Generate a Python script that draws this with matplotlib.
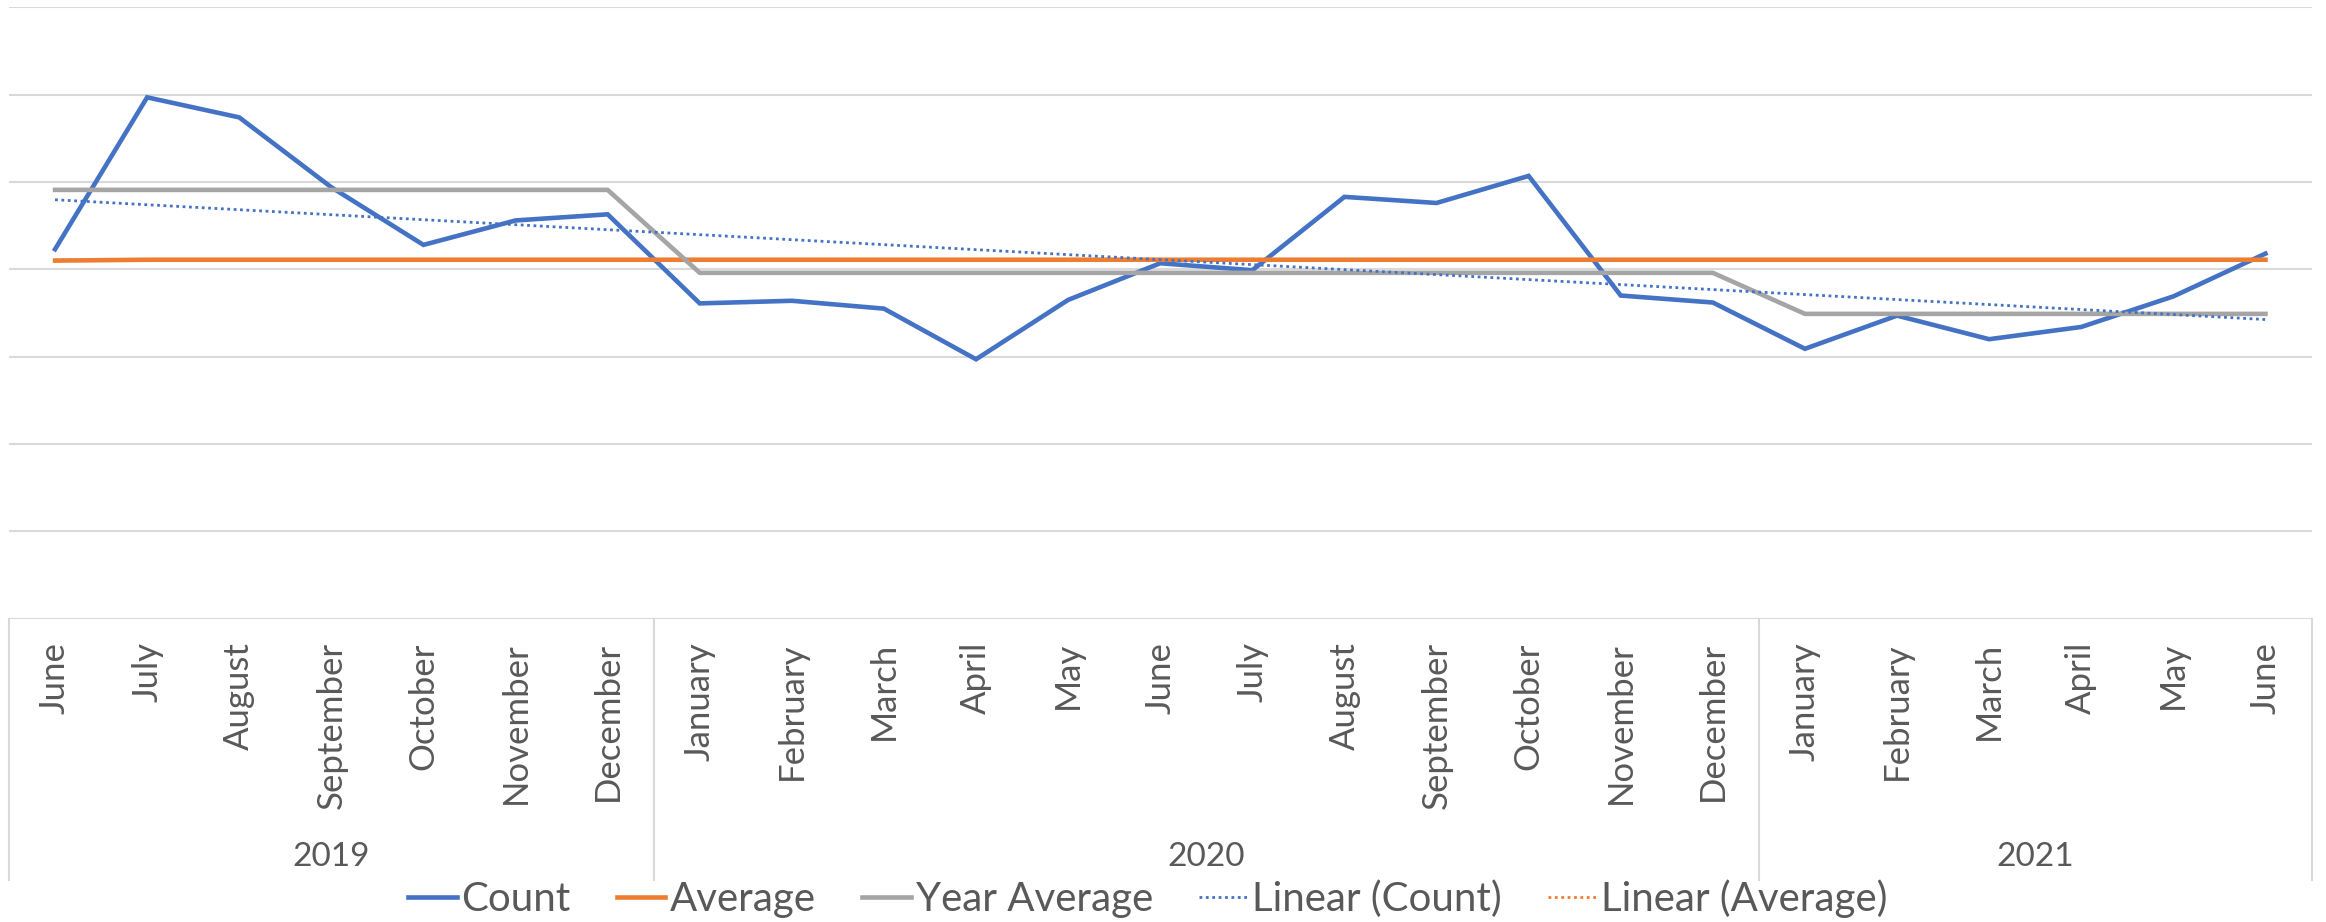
import numpy as np
import matplotlib
matplotlib.use("Agg")
from matplotlib import pyplot as plt

plt.rcParams['font.family'] = ['Lato', 'DejaVu Sans']

months = ["June", "July", "August", "September", "October", "November", "December",
          "January", "February", "March", "April", "May", "June", "July", "August",
          "September", "October", "November", "December",
          "January", "February", "March", "April", "May", "June"]
years = ["2019", "2020", "2021"]
year_edges = [-0.5, 6.5, 18.5, 24.5]

count = [4.23, 5.97, 5.74, 4.94, 4.28, 4.56, 4.63,
         3.61, 3.64, 3.55, 2.97, 3.65, 4.07, 3.99, 4.83, 4.76, 5.07, 3.70, 3.62,
         3.09, 3.47, 3.20, 3.34, 3.69, 4.18]
average = [4.10, 4.11, 4.11, 4.11, 4.11, 4.11, 4.11, 4.11, 4.11, 4.11, 4.11, 4.11, 4.11,
           4.11, 4.11, 4.11, 4.11, 4.11, 4.11, 4.11, 4.11, 4.11, 4.11, 4.11, 4.11]
year_average = [4.91, 4.91, 4.91, 4.91, 4.91, 4.91, 4.91,
                3.96, 3.96, 3.96, 3.96, 3.96, 3.96, 3.96, 3.96, 3.96, 3.96, 3.96, 3.96,
                3.49, 3.49, 3.49, 3.49, 3.49, 3.49]

BLUE = "#4472C4"
ORANGE = "#ED7D31"
GRAY = "#A5A5A5"
TEXT = "#595959"
GRID = "#D9D9D9"

W, H = 2326, 922
fig = plt.figure(figsize=(W / 100, H / 100), dpi=100)
ax = fig.add_axes([9 / W, 1 - 618.6 / H, 2302.5 / W, 611.2 / H])

x = np.arange(len(months))

# trendlines like excel's linear trend
p_count = np.polyfit(x, count, 1)
p_avg = np.polyfit(x, average, 1)

l1, = ax.plot(x, count, color=BLUE, lw=3.3, solid_joinstyle='miter', zorder=3)
l2, = ax.plot(x, average, color=ORANGE, lw=3.3, zorder=3)
l3, = ax.plot(x, year_average, color=GRAY, lw=3.3, zorder=3)
l4, = ax.plot(x, np.polyval(p_count, x), color=BLUE, lw=2.0, ls=(0, (1, 1.3)), zorder=4)
l5, = ax.plot(x, np.polyval(p_avg, x), color=ORANGE, lw=2.0, ls=(0, (1, 1.3)), zorder=2)

ax.set_xlim(-0.5, 24.5)
ax.set_ylim(0, 7)
ax.set_yticks(range(1, 8))
ax.yaxis.grid(True, color=GRID, lw=1.5)
ax.set_axisbelow(True)
ax.tick_params(axis='y', length=0, labelleft=False)
for s in ax.spines.values():
    s.set_visible(False)

ax.set_xticks(x)
ax.set_xticklabels(months, rotation=90, color=TEXT, fontsize=25)
ax.tick_params(axis='x', length=0, pad=17)

# category box
ax.axhline(0, color=GRID, lw=1.5, zorder=1)
for e in year_edges:
    ax.plot([e, e], [0, -2.99], color=GRID, lw=1.5, clip_on=False)
for i, yr in enumerate(years):
    ax.text((year_edges[i] + year_edges[i + 1]) / 2, -2.73, yr, ha='center', va='center',
            color=TEXT, fontsize=24, clip_on=False)

fig.legend([l1, l2, l3, l4, l5],
           ["Count", "Average", "Year Average", "Linear (Count)", "Linear (Average)"],
           loc='center', bbox_to_anchor=(1148 / W, 1 - 899 / H), ncol=5, frameon=False,
           fontsize=29, labelcolor=TEXT, handlelength=1.2, handletextpad=0.12,
           columnspacing=1.15)

fig.savefig("out.png", dpi=100)
